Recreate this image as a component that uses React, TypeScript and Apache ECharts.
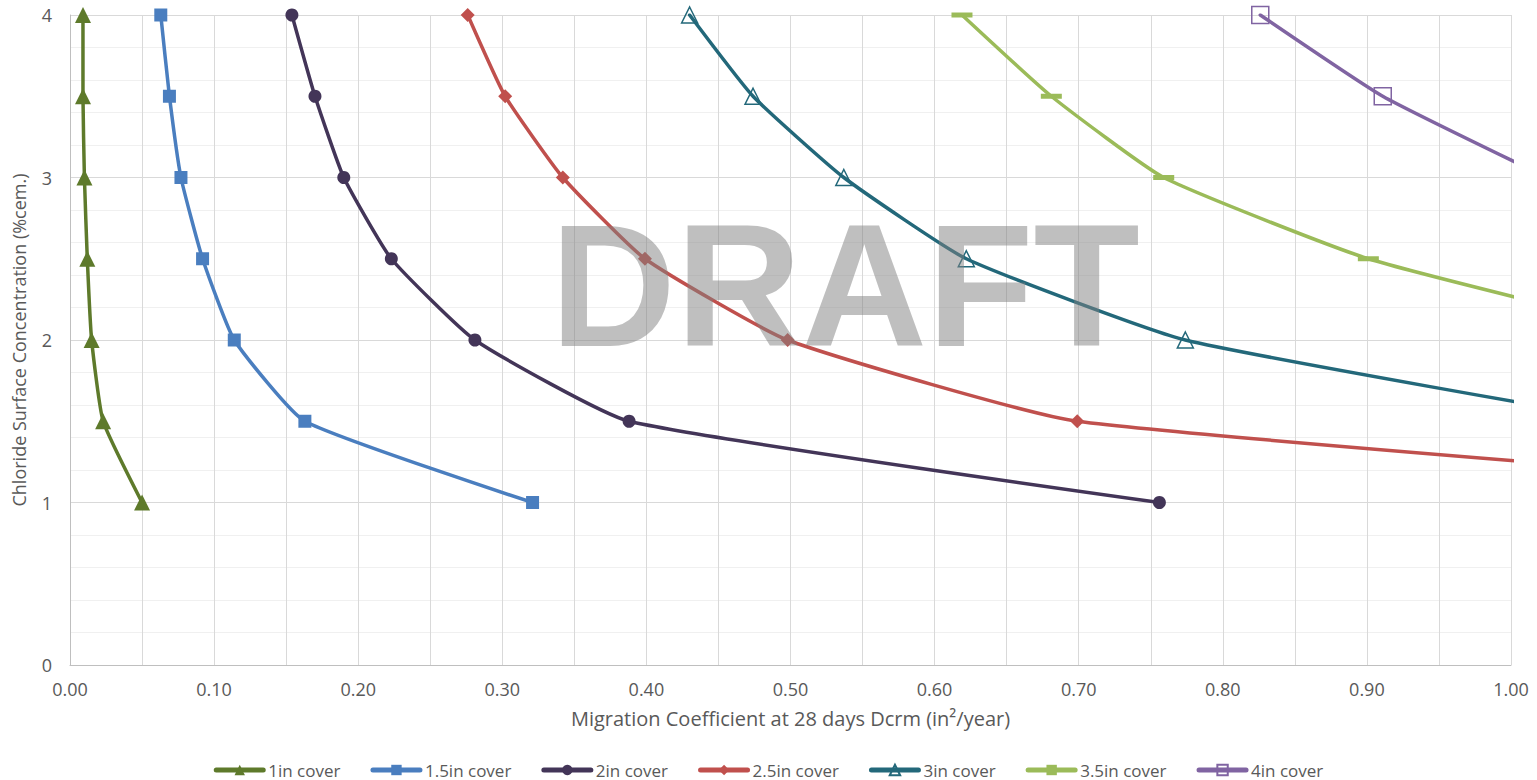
import React, { useEffect, useRef } from "react";
import * as echarts from "echarts";

// Chloride surface concentration levels (y) shared by all series, top to bottom
const yLevels = [4, 3.5, 3, 2.5, 2, 1.5, 1];

// Migration coefficient (x) for each cover depth, matching yLevels in order
const cover1in = [0.009, 0.009, 0.010, 0.012, 0.015, 0.023, 0.050];
const cover15in = [0.063, 0.069, 0.077, 0.092, 0.114, 0.163, 0.321];
const cover2in = [0.154, 0.170, 0.190, 0.223, 0.281, 0.388, 0.756];
const cover25in = [0.276, 0.302, 0.342, 0.399, 0.498, 0.699, 1.37];
const cover3in = [0.430, 0.474, 0.537, 0.622, 0.774, 1.08];
const cover35in = [0.619, 0.681, 0.759, 0.901, 1.124];
const cover4in = [0.826, 0.911, 1.025];

const seriesNames = [
  "1in cover",
  "1.5in cover",
  "2in cover",
  "2.5in cover",
  "3in cover",
  "3.5in cover",
  "4in cover",
];
const seriesX = [cover1in, cover15in, cover2in, cover25in, cover3in, cover35in, cover4in];
const seriesColors = ["#5e7a2b", "#4a7ebf", "#433558", "#c0504d", "#23687a", "#9bbb59", "#8064a2"];

const xTitle = "Migration Coefficient at 28 days Dcrm (in\u00b2/year)";
const yTitle = "Chloride Surface Concentration (%cem.)";
const watermark = "DRAFT";

const FONT = "'Open Sans', 'Noto Sans', sans-serif";
const TEXT = "#595959";

export default function App() {
  const ref = useRef<HTMLDivElement>(null);

  useEffect(() => {
    document.body.style.margin = "0";
    if (!ref.current) return;
    const chart = echarts.init(ref.current, null, { renderer: "svg" });

    const symbolDefs: any[] = [
      { symbol: "triangle", symbolSize: 16 },
      { symbol: "rect", symbolSize: 13 },
      { symbol: "circle", symbolSize: 13 },
      { symbol: "diamond", symbolSize: 14 },
      { symbol: "triangle", symbolSize: 16, hollow: true },
      { symbol: "rect", symbolSize: [21, 5] },
      { symbol: "rect", symbolSize: 17, hollow: true },
    ];

    const series = seriesNames.map((name, i) => {
      const c = seriesColors[i];
      const d = symbolDefs[i];
      return {
        name,
        type: "line",
        data: seriesX[i].map((x, j) => [x, yLevels[j]]),
        smooth: 0.15,
        clip: true,
        symbol: d.symbol,
        symbolSize: d.symbolSize,
        showAllSymbol: true,
        lineStyle: { color: c, width: 3.5, cap: "round", join: "round" },
        itemStyle: d.hollow
          ? { color: "rgba(255,255,255,0)", borderColor: c, borderWidth: 1.5 }
          : { color: c, borderWidth: 0 },
        emphasis: { disabled: true },
        z: 3,
      };
    });

    chart.setOption({
      animation: false,
      textStyle: { fontFamily: FONT },
      grid: { left: 70, right: 26, top: 15, bottom: 115, containLabel: false },
      xAxis: {
        type: "value",
        min: 0,
        max: 1,
        interval: 0.05,
        name: xTitle,
        nameLocation: "middle",
        nameGap: 43,
        nameTextStyle: { color: TEXT, fontSize: 20, fontFamily: FONT },
        axisLine: { show: true, lineStyle: { color: "#bfbfbf", width: 1 } },
        axisTick: { show: false },
        axisLabel: {
          color: TEXT,
          fontSize: 18,
          fontFamily: FONT,
          margin: 15,
          formatter: (v: number) =>
            Math.round(v * 100) % 10 === 0 ? v.toFixed(2) : "",
        },
        splitLine: { show: true, lineStyle: { color: "#d9d9d9", width: 1 } },
      },
      yAxis: {
        type: "value",
        min: 0,
        max: 4,
        interval: 1,
        name: yTitle,
        nameLocation: "middle",
        nameGap: 42,
        nameRotate: 90,
        nameTextStyle: { color: TEXT, fontSize: 18, fontFamily: FONT },
        axisLine: { show: true, lineStyle: { color: "#bfbfbf", width: 1 } },
        axisTick: { show: false },
        axisLabel: { color: TEXT, fontSize: 18, fontFamily: FONT, margin: 18 },
        splitLine: { show: true, lineStyle: { color: "#d9d9d9", width: 1 } },
        minorTick: { show: false, splitNumber: 5 },
        minorSplitLine: { show: true, lineStyle: { color: "#f0f0f0", width: 1 } },
      },
      legend: {
        data: seriesNames,
        left: "center",
        top: 758,
        padding: [2, 5, 2, 5],
        itemWidth: 47,
        itemHeight: 13,
        itemGap: 30,
        lineStyle: { width: 5, cap: "round" },
        textStyle: { color: TEXT, fontSize: 17, fontFamily: FONT, lineHeight: 20 },
      },
      graphic: [
        {
          type: "text",
          x: 845,
          y: 285,
          z: 100,
          silent: true,
          style: {
            text: watermark,
            font: "bold 174px 'Liberation Sans', Arial, sans-serif",
            fill: "rgba(128,128,128,0.5)",
            textAlign: "center",
            textVerticalAlign: "middle",
          },
        },
      ],
      series,
    });

    return () => chart.dispose();
  }, []);

  return <div ref={ref} style={{ width: 1537, height: 780 }} />;
}
